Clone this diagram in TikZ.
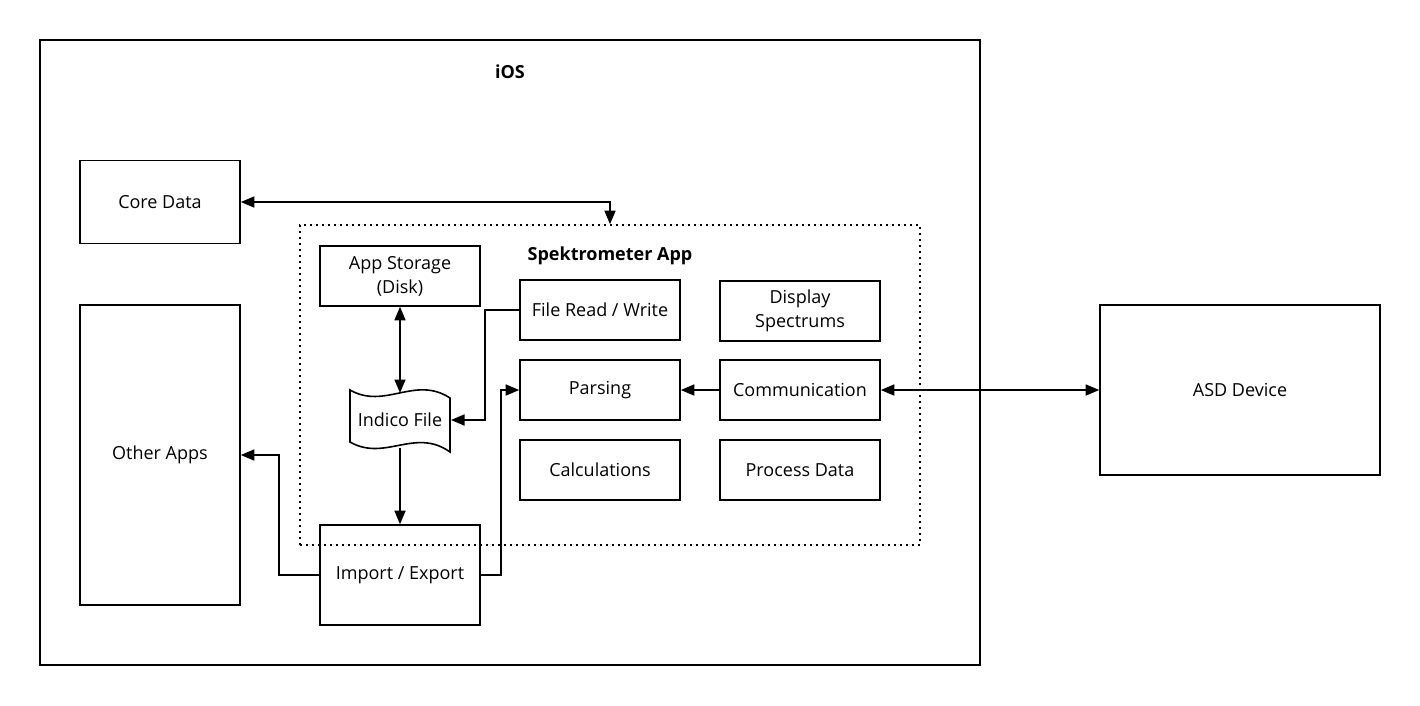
\documentclass[tikz,border=0pt]{standalone}
\usepackage{fontspec}
\setmainfont{Open Sans}
\usetikzlibrary{arrows.meta}
\begin{document}
\begin{tikzpicture}[x=1pt,y=-1pt, line width=1.6pt,
 box/.style={draw, rectangle, minimum width=160pt, minimum height=60pt, align=center, inner sep=0pt, font=\fontsize{18}{24}\selectfont},
 lbl/.style={font=\fontsize{18}{24}\selectfont\bfseries, inner sep=0pt},
 tip/.tip={Triangle[length=13.5pt,width=11pt]},
 arr/.style={-tip},
 biarr/.style={tip-tip},
 dotbox/.style={draw, dash pattern=on 1.8pt off 4.2pt, rectangle, inner sep=0pt},
]
\useasboundingbox (0,0) rectangle (1420,705);
% iOS frame
\node[draw, rectangle, minimum width=940pt, minimum height=625pt, inner sep=0pt] (ios) at (510,352.5) {};
\node[lbl] (ioslbl) at (510,72) {iOS};
% Spektrometer app frame
\node[dotbox, minimum width=620pt, minimum height=320pt] (app) at (610,385) {};
\node[lbl] (applbl) at (610,256) {Spektrometer App};
% boxes
\node[box, minimum height=83pt] (core) at (160,202) {Core Data};
\node[box, minimum height=300pt] (other) at (160,455) {Other Apps};
\node[box] (stor) at (400,276) {App Storage\\(Disk)};
\node[box] (frw) at (600,310) {File Read / Write};
\node[box] (disp) at (800,311) {Display\\Spectrums};
\node[box] (pars) at (600,390) {Parsing};
\node[box] (comm) at (800,390) {Communication};
\node[box] (calc) at (600,470) {Calculations};
\node[box] (proc) at (800,470) {Process Data};
\node[box, minimum height=100pt] (imp) at (400,575) {Import / Export};
\node[box, minimum width=280pt, minimum height=170pt] (asd) at (1240,390) {ASD Device};
% Indico file (tape shape)
\draw (350,390) .. controls (385,410) and (415,375) .. (450,398)
  -- (450,452) .. controls (415,427) and (385,462) .. (350,442) -- cycle;
\node[font=\fontsize{18}{24}\selectfont, inner sep=0pt] (ind) at (400,420) {Indico File};
\coordinate (indtop) at (400,393);
\coordinate (indbot) at (400,448);
\coordinate (indright) at (451,420);
% connectors
\draw[biarr] (core.east) -| (app.north);
\draw[biarr] (stor.south) -- (indtop);
\draw[arr] (frw.west) -- ++(-34,0) |- (indright);
\draw[arr] (indbot) -- (imp.north);
\draw[arr] (imp.east) -- ++(20,0) |- (pars.west);
\draw[arr] (imp.west) -- ++(-40,0) |- (other.east);
\draw[arr] (comm.west) -- (pars.east);
\draw[biarr] (comm.east) -- (asd.west);
\end{tikzpicture}
\end{document}
